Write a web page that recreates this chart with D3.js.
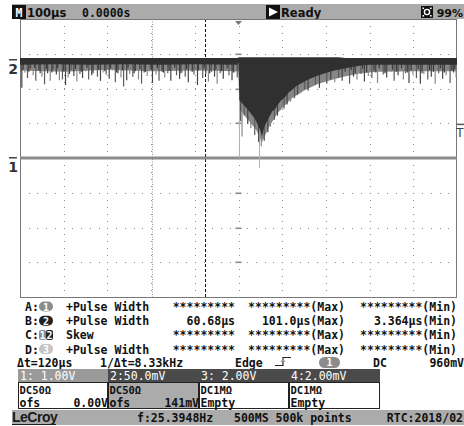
<!DOCTYPE html>
<html>
<head>
<meta charset="utf-8">
<script src="https://cdn.jsdelivr.net/npm/d3@7"></script>
<style>
body{margin:0;background:#fff;}
svg{display:block;}
text{font-family:"DejaVu Sans Mono",monospace;font-size:11.5px;font-weight:bold;fill:#111;}
</style>
</head>
<body>
<svg id="scope" width="464" height="426"></svg>
<script>
// time base 100us/div, 10 div ; 8 vertical div
const timeRange = [-500, 500];
const divRange = [-4, 4];
const ch1VoltsPerDiv = 1.0, ch1Offset = 0;
const ch2mVPerDiv = 50, ch2Offset = 141;
const cursorTimes = [-197, -77];
const trigLevel = 0.96; // V, ch1

// ch2 dense band: [t us, upper mV, lower mV]
const ch2Band = [[-500,3,-7],[-420,3,-6],[-340,3,-7],[-260,3,-6],[-180,3,-7],[-100,3,-6],[-2,3,-7],
  [0,4,-4],[2,4,-58],[8,4,-62],[15,4,-67],[22,4,-72],[31,4,-79],[37,4,-84],[42,4,-90],[46,4,-96],
  [49,4,-100],[52,4,-106],[54,4,-110],[57,4,-101],[61,4,-93],[68,4,-85],[77,4,-74],[84,4,-70],
  [90,4,-64],[98,4,-58],[106,4,-54],[114,4,-47],[122,4,-43],[133,4,-37],[145,4,-33],[156,4,-29],
  [168,4,-26],[183,4,-22],[198,4,-19],[213,4,-16],[228,4,-14],[245,3,-12],[260,3,-10],[280,3,-8],
  [300,3,-7],[400,3,-7],[500,3,-7]];
// lighter haze under the band [t, lower mV]
const ch2Haze = [[-500,-15],[-400,-17],[-300,-14],[-200,-16],[-100,-15],[0,-16],[2,-70],[20,-85],
  [40,-100],[54,-118],[70,-96],[90,-76],[120,-56],[150,-44],[180,-35],[210,-29],[240,-24],
  [280,-19],[320,-17],[400,-16],[500,-16]];
// noise spikes [t, mV]
const ch2Spikes = [[-497,-40],[-490,-18],[-484,-26],[-477,-12],[-471,-22],[-465,-30],[-458,-15],
  [-451,-24],[-445,-35],[-438,-19],[-432,-30],[-425,-13],[-418,-21],[-411,-29],[-404,-28],
  [-397,-36],[-391,-25],[-384,-14],[-378,-23],[-371,-31],[-364,-20],[-358,-26],[-351,-16],
  [-344,-28],[-337,-22],[-331,-12],[-324,-24],[-317,-30],[-311,-18],[-304,-21],[-297,-27],
  [-290,-15],[-283,-32],[-277,-19],[-270,-25],[-264,-38],[-257,-29],[-250,-20],[-243,-24],
  [-237,-16],[-230,-28],[-223,-34],[-217,-18],[-210,-23],[-203,-13],[-198,-33],[-190,-21],
  [-183,-30],[-176,-17],[-170,-25],[-163,-19],[-156,-30],[-150,-14],[-143,-22],[-136,-27],
  [-130,-18],[-123,-24],[-116,-32],[-110,-16],[-103,-21],[-95,-36],[-90,-13],[-83,-26],
  [-76,-20],[-70,-31],[-63,-17],[-56,-24],[-50,-34],[-43,-19],[-36,-27],[-30,-15],[-23,-22],
  [-16,-29],[-10,-18],[-4,-25],
  [4,-88],[7,-110],[12,-80],[20,-92],[27,-98],[36,-108],[45,-118],[51,-124],[58,-116],[66,-104],
  [72,-96],[81,-86],[88,-80],[95,-72],[103,-70],[110,-64],[118,-60],[127,-55],[134,-50],
  [141,-48],[150,-42],[158,-44],[166,-38],[175,-36],[184,-40],[192,-30],[201,-34],[210,-28],
  [219,-32],[228,-26],[236,-30],[245,-22],[253,-34],[262,-24],[270,-28],[279,-20],[287,-31],
  [296,-23],[304,-26],[313,-18],[317,-33],[330,-21],[338,-25],[347,-17],[355,-30],[364,-22],
  [376,-28],[381,-19],[389,-33],[398,-21],[406,-26],[415,-34],[423,-20],[432,-28],[440,-24],
  [449,-34],[457,-19],[466,-27],[474,-22],[483,-33],[491,-18],[497,-25]];
// short dark spikes in between [t, mV]
const ch2ShortSpikes = [[-494,-14],[-481,-17],[-468,-11],[-455,-19],[-441,-13],[-428,-18],
  [-415,-12],[-401,-16],[-388,-20],[-374,-13],[-361,-17],[-348,-11],[-334,-19],[-321,-14],
  [-307,-16],[-294,-12],[-280,-18],[-267,-15],[-254,-11],[-240,-19],[-227,-13],[-214,-17],
  [-200,-14],[-187,-12],[-173,-18],[-160,-15],[-147,-11],[-133,-19],[-120,-13],[-107,-17],
  [-93,-15],[-80,-12],[-67,-19],[-53,-14],[-40,-16],[-27,-12],[-13,-18],
  [243,-17],[257,-14],[266,-19],[283,-13],[292,-18],[309,-15],[321,-12],[334,-19],[351,-14],
  [360,-17],[372,-12],[385,-18],[394,-15],[410,-13],[419,-19],[436,-14],[445,-17],[461,-12],
  [470,-18],[487,-15],[494,-13]];
const ch2Glitches = [[1,-141],[47,-155]];
const ch1Trace = [[-500,0],[500,0]];

const measLabels = ["A:", "B:", "C:", "D:"];
const measBadges = [["1"], ["2"], ["1","2"], ["3"]];
const measNames = ["+Pulse Width", "+Pulse Width", "Skew", "+Pulse Width"];
const measValues = ["*********", "60.68µs", "*********", "*********"];
const measMax = ["*********(Max)", "101.0µs(Max)", "*********(Max)", "*********(Max)"];
const measMin = ["*********(Min)", "3.364µs(Min)", "*********(Min)", "*********(Min)"];

const chHeaders = ["1: 1.00V", "2:50.0mV", "3: 2.00V", "4:2.00mV"];
const chCoupling = ["DC50Ω", "DC50Ω", "DC1MΩ", "DC1MΩ"];
const chOfsLabel = ["ofs", "ofs", "Empty", "Empty"];
const chOfsValue = ["0.00V", "141mV", "", ""];

const badgeFill = {"1": "#8c8c8c", "2": "#222", "3": "#c4c4c4"};

const svg = d3.select("#scope");
const plot = {left: 20, right: 457, top: 19, bottom: 297};

const x = d3.scaleLinear().domain(timeRange).range([plot.left, plot.right]);
const y = d3.scaleLinear().domain(divRange).range([plot.bottom, plot.top]);
const ch2Y = v => y((v + ch2Offset) / ch2mVPerDiv);
const ch1Y = v => y((v * 1000 + ch1Offset) / (ch1VoltsPerDiv * 1000));

// top status bar
svg.append("rect").attr("x", 12).attr("y", 4).attr("width", 452).attr("height", 15).attr("fill", "#ababab");
svg.append("rect").attr("x", 12).attr("y", 5).attr("width", 14).attr("height", 14).attr("fill", "#111");
svg.append("text").attr("x", 19).attr("y", 16.5).attr("text-anchor", "middle").style("fill", "#fff").text("M");
svg.append("text").attr("x", 27).attr("y", 16.5).style("font-family", "'DejaVu Sans'").text("100µs");
svg.append("text").attr("x", 82).attr("y", 16.5).text("0.0000s");
svg.append("rect").attr("x", 266).attr("y", 5).attr("width", 14).attr("height", 14).attr("fill", "#111");
svg.append("path").attr("d", "M269,7.5 L278,12 L269,16.5 Z").attr("fill", "#fff");
svg.append("text").attr("x", 281).attr("y", 16.5).style("font-family", "'DejaVu Sans'").text("Ready");
svg.append("rect").attr("x", 421).attr("y", 6).attr("width", 12).attr("height", 12).attr("fill", "#111");
svg.append("circle").attr("cx", 427).attr("cy", 12).attr("r", 2.6).attr("fill", "none").attr("stroke", "#fff").attr("stroke-width", 1.4);
[[422.5,7.5],[430,7.5],[422.5,15],[430,15]].forEach(p =>
  svg.append("rect").attr("x", p[0]).attr("y", p[1]).attr("width", 1.6).attr("height", 1.6).attr("fill", "#fff"));
svg.append("text").attr("x", 463).attr("y", 16.5).attr("text-anchor", "end")
  .style("font-family", "'DejaVu Sans'").style("font-size", "11px").text("99%");

// grid
const grid = svg.append("g");
const majorT = d3.range(timeRange[0] + 100, timeRange[1], 100);
const majorD = d3.range(divRange[0] + 1, divRange[1], 1);
const minorT = d3.range(timeRange[0] + 20, timeRange[1], 20);
const minorD = d3.range(divRange[0] + 0.2, divRange[1] - 0.1, 0.2);
majorD.forEach(d => {
  grid.selectAll(null).data(minorT).enter().append("rect")
    .attr("x", t => Math.round(x(t))).attr("y", Math.round(y(d)))
    .attr("width", 1).attr("height", 1).attr("fill", "#8a8a8a");
});
majorT.forEach(t => {
  grid.selectAll(null).data(minorD).enter().append("rect")
    .attr("x", Math.round(x(t))).attr("y", d => Math.round(y(d)))
    .attr("width", 1).attr("height", 1).attr("fill", "#8a8a8a");
});
// centre axis marks
grid.selectAll(null).data(majorD).enter().append("rect")
  .attr("x", x(0) - 3).attr("y", d => Math.round(y(d)) - 0.5)
  .attr("width", 6).attr("height", 1.6).attr("fill", "#888");

// cursors
svg.append("line").attr("x1", Math.round(x(cursorTimes[0])) + 0.5).attr("x2", Math.round(x(cursorTimes[0])) + 0.5)
  .attr("y1", plot.top).attr("y2", plot.bottom).attr("stroke", "#999").attr("stroke-dasharray", "1,1.5");
svg.append("line").attr("x1", Math.round(x(cursorTimes[1])) + 0.5).attr("x2", Math.round(x(cursorTimes[1])) + 0.5)
  .attr("y1", plot.top).attr("y2", plot.bottom).attr("stroke", "#111").attr("stroke-dasharray", "3,2");

// plot frame
svg.append("rect").attr("x", plot.left + 0.5).attr("y", plot.top + 0.5)
  .attr("width", plot.right - plot.left - 1).attr("height", plot.bottom - plot.top)
  .attr("fill", "none").attr("stroke", "#777");

// trigger position marker
svg.append("path").attr("d", `M${x(0) - 3.5},${plot.top + 2} L${x(0) + 3.5},${plot.top + 2} L${x(0)},${plot.top + 6} Z`).attr("fill", "#777");

// ch1 trace
svg.append("path").datum(ch1Trace)
  .attr("d", d3.line().x(d => x(d[0])).y(d => ch1Y(d[1])))
  .attr("stroke", "#8c8c8c").attr("stroke-width", 3).attr("fill", "none");

// ch2 trace
const tr = svg.append("g");
tr.append("path").datum(ch2Haze)
  .attr("d", d3.area().x(d => x(d[0])).y0(ch2Y(-5)).y1(d => ch2Y(d[1])))
  .attr("fill", "#666").attr("opacity", 0.8);
tr.selectAll(null).data(ch2Glitches).enter().append("line")
  .attr("x1", d => x(d[0]) + 0.5).attr("x2", d => x(d[0]) + 0.5)
  .attr("y1", ch2Y(-5)).attr("y2", d => ch2Y(d[1]))
  .attr("stroke", "#b0b0b0").attr("stroke-width", 1);
tr.selectAll(null).data(ch2Spikes).enter().append("line")
  .attr("x1", d => x(d[0]) + 0.5).attr("x2", d => x(d[0]) + 0.5)
  .attr("y1", ch2Y(-5)).attr("y2", d => ch2Y(d[1]))
  .attr("stroke", (d, i) => ["#444", "#888", "#5a5a5a"][i % 3]).attr("stroke-width", 1.2);
tr.selectAll(null).data(ch2ShortSpikes).enter().append("line")
  .attr("x1", d => x(d[0]) + 0.5).attr("x2", d => x(d[0]) + 0.5)
  .attr("y1", ch2Y(-5)).attr("y2", d => ch2Y(d[1]))
  .attr("stroke", "#3a3a3a").attr("stroke-width", 1.2);
tr.append("path").datum(ch2Band)
  .attr("d", d3.area().x(d => x(d[0])).y0(d => ch2Y(d[1])).y1(d => ch2Y(d[2])))
  .attr("fill", "#303030");

// channel ground markers and trigger level
const markers = [{lbl: "2", yv: ch2Y(0)}, {lbl: "1", yv: ch1Y(0)}];
markers.forEach(m => {
  svg.append("rect").attr("x", 9).attr("y", m.yv - 1).attr("width", 8).attr("height", 1.5).attr("fill", "#444");
  svg.append("text").attr("x", 13).attr("y", m.yv + 14).attr("text-anchor", "middle")
    .style("font-family", "'DejaVu Sans'").style("font-size", "14px").style("font-weight", "bold").style("fill", "#333").text(m.lbl);
});
svg.append("rect").attr("x", 457).attr("y", ch1Y(trigLevel) - 1).attr("width", 7).attr("height", 1.5).attr("fill", "#555");
svg.append("text").attr("x", 463.5).attr("y", ch1Y(trigLevel) + 12).attr("text-anchor", "end")
  .style("font-family", "'DejaVu Sans'").style("font-size", "12px").style("font-weight", "normal").style("fill", "#444").text("T");

// measurement rows
function badge(g, cx, cy, chans) {
  if (chans.length === 1) {
    g.append("rect").attr("x", cx - 7).attr("y", cy - 5).attr("width", 14).attr("height", 10).attr("rx", 5)
      .attr("fill", badgeFill[chans[0]]);
    g.append("text").attr("x", cx).attr("y", cy + 4).attr("text-anchor", "middle")
      .style("fill", "#fff").style("font-size", "10px").text(chans[0]);
  } else {
    chans.forEach((c, k) => {
      g.append("rect").attr("x", cx - 7 + k * 7).attr("y", cy - 5).attr("width", 7).attr("height", 10).attr("rx", 2)
        .attr("fill", badgeFill[c]);
      g.append("text").attr("x", cx - 3.5 + k * 7).attr("y", cy + 4).attr("text-anchor", "middle")
        .style("fill", "#fff").style("font-size", "10px").text(c);
    });
  }
}
const meas = svg.append("g");
measLabels.forEach((lbl, i) => {
  const by = 311 + i * 14.2;
  meas.append("text").attr("x", 25).attr("y", by).text(lbl);
  badge(meas, 46, by - 4.5, measBadges[i]);
  meas.append("text").attr("x", 66).attr("y", by).text(measNames[i]);
  meas.append("text").attr("x", 235).attr("y", by).attr("text-anchor", "end").text(measValues[i]);
  meas.append("text").attr("x", 345).attr("y", by).attr("text-anchor", "end").text(measMax[i]);
  meas.append("text").attr("x", 457).attr("y", by).attr("text-anchor", "end").text(measMin[i]);
});

// cursor / trigger info row
const infoY = 367;
svg.append("text").attr("x", 17).attr("y", infoY).text("Δt=120µs");
svg.append("text").attr("x", 100).attr("y", infoY).text("1/Δt=8.33kHz");
svg.append("text").attr("x", 235).attr("y", infoY).text("Edge");
svg.append("path").attr("d", "M275,365.5 H283 V357.5 H291").attr("fill", "none").attr("stroke", "#222").attr("stroke-width", 1.2);
svg.append("path").attr("d", "M280.5,362 L283,358.5 L285.5,362 Z").attr("fill", "#999");
svg.append("rect").attr("x", 319).attr("y", 357).attr("width", 21).attr("height", 11).attr("rx", 5.5).attr("fill", "#8c8c8c");
svg.append("text").attr("x", 329.5).attr("y", 366).attr("text-anchor", "middle").style("fill", "#fff").style("font-size", "10px").text("1");
svg.append("text").attr("x", 373).attr("y", infoY).text("DC");
svg.append("text").attr("x", 464).attr("y", infoY).attr("text-anchor", "end").text("960mV");

// channel boxes
const boxX = [18, 108, 199, 289, 380];
const boxes = svg.append("g");
chHeaders.forEach((h, i) => {
  const x0 = boxX[i], w = boxX[i + 1] - boxX[i];
  boxes.append("rect").attr("x", x0).attr("y", 369).attr("width", w).attr("height", 13)
    .attr("fill", i === 0 ? "#9a9a9a" : "#4a4a4a");
  boxes.append("rect").attr("x", x0 + 0.5).attr("y", 382.5).attr("width", w - 1).attr("height", 26)
    .attr("fill", i === 1 ? "#ababab" : "#fff").attr("stroke", "#222");
  boxes.append("text").attr("x", x0 + 2).attr("y", 380).style("fill", "#fff").style("font-weight", "normal").text(h);
  boxes.append("text").attr("x", x0 + 1.5).attr("y", 394).style("font-size", "10.5px").text(chCoupling[i]);
  boxes.append("text").attr("x", x0 + 1.5).attr("y", 407).text(chOfsLabel[i]);
  boxes.append("text").attr("x", x0 + w).attr("y", 407).attr("text-anchor", "end").text(chOfsValue[i]);
});

// bottom bar
svg.append("rect").attr("x", 12).attr("y", 410).attr("width", 452).attr("height", 15).attr("fill", "#ababab");
svg.append("text").attr("x", 12).attr("y", 422).style("font-family", "'Liberation Sans'").style("font-size", "14px")
  .style("letter-spacing", "-0.5px").style("fill", "#1a1a1a").text("LeCroy");
svg.append("line").attr("x1", 12).attr("x2", 56).attr("y1", 424.5).attr("y2", 424.5).attr("stroke", "#1a1a1a").attr("stroke-width", 1.2);
svg.append("text").attr("x", 137).attr("y", 422).text("f:25.3948Hz");
svg.append("text").attr("x", 234).attr("y", 422).text("500MS 500k points");
svg.append("text").attr("x", 463).attr("y", 422).attr("text-anchor", "end").text("RTC:2018/02");
</script>
</body>
</html>
